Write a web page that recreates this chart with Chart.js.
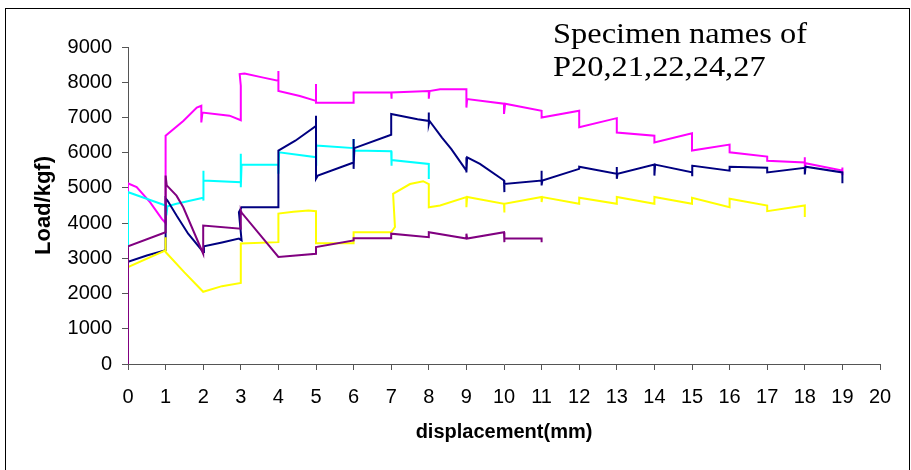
<!DOCTYPE html>
<html>
<head>
<meta charset="utf-8">
<script src="https://cdn.jsdelivr.net/npm/chart.js@4"></script>
<style>
  body { margin: 0; background: #fff; }
  #wrap { position: relative; width: 911px; height: 470px; }
</style>
</head>
<body>
<div id="wrap"><canvas id="chart" width="911" height="470"></canvas></div>
<script>
/* Data (displacement mm / load kgf) */
var magentaX = [0, 0, 0.23, 0.59, 0.9, 1, 1, 1.47, 1.83, 1.95, 1.95, 1.98, 2.7, 3, 3, 2.97, 3.1, 3.6, 4, 4, 4, 4.57, 5, 5, 5, 6, 6, 7, 7, 7.02, 8, 8, 8.02, 8.3, 9, 9, 9.02, 10, 10, 10.03, 11, 11, 12, 12, 13, 13, 14, 14, 15, 15, 16, 16, 17, 17, 18, 18, 18, 18.02, 19, 19, 19];
var magentaY = [0, 5130, 5020, 4590, 4120, 4000, 6480, 6900, 7280, 7330, 6860, 7140, 7050, 6920, 7900, 8230, 8245, 8130, 8040, 8320, 7750, 7610, 7470, 7950, 7420, 7420, 7710, 7710, 7530, 7710, 7750, 7530, 7750, 7800, 7800, 7280, 7520, 7390, 7100, 7390, 7190, 7000, 7190, 6720, 6980, 6570, 6480, 6290, 6550, 6060, 6230, 6010, 5890, 5770, 5720, 5870, 5560, 5700, 5490, 5580, 5360];

var cyanX = [0, 0, 1, 1.02, 1.05, 1.29, 2, 2, 2, 2.02, 3, 3, 3, 3.02, 4, 4, 4.02, 5, 5, 5, 5.02, 6, 6, 6, 6.02, 7, 7, 7.02, 8, 8];
var cyanY = [0, 4880, 4500, 4220, 4480, 4550, 4720, 5490, 4640, 5210, 5160, 5970, 5020, 5660, 5660, 5400, 6010, 5870, 6250, 5630, 6200, 6130, 6390, 5770, 6060, 6040, 5630, 5790, 5680, 5250];

var navyX = [0, 0, 0.5, 1, 1, 1.05, 1.3, 1.6, 2, 2.02, 2.5, 2.95, 3.02, 2.95, 3.02, 4, 4, 4.45, 5, 5, 5, 5.05, 6, 6, 6, 6.02, 7, 7, 7.7, 8, 8, 8, 8.02, 8.35, 8.6, 9, 9, 9, 9.02, 9.36, 10, 10, 10.02, 11, 11, 11, 11.02, 12, 12, 13, 13, 13, 13.02, 14, 14, 14, 14.02, 15, 15, 15, 15.02, 16, 16, 17, 17, 18, 18, 18.02, 19, 19];
var navyY = [0, 2900, 3080, 3230, 4700, 4640, 4200, 3700, 3180, 3340, 3450, 3560, 3510, 4310, 4450, 4450, 6060, 6340, 6760, 7050, 5260, 5350, 5720, 6390, 5540, 6130, 6510, 7100, 6950, 6900, 7140, 6810, 6900, 6430, 6100, 5490, 5870, 5440, 5870, 5680, 5210, 4880, 5110, 5210, 5490, 5070, 5210, 5540, 5600, 5400, 5590, 5260, 5400, 5660, 5680, 5350, 5660, 5440, 5660, 5330, 5630, 5490, 5600, 5570, 5440, 5570, 5380, 5600, 5440, 5130];

var yellowX = [0, 0, 1, 1, 1, 1.5, 2, 2.5, 3, 3, 4, 4, 4.4, 4.8, 5, 5, 6, 6, 7, 7.1, 7.05, 7.5, 7.85, 8, 8, 8.3, 9, 9, 9.02, 10, 10, 10.02, 11, 11, 11.02, 12, 12, 13, 13, 14, 14, 15, 15, 16, 16, 17, 17, 18, 18];
var yellowY = [0, 2750, 3230, 3600, 3180, 2600, 2050, 2210, 2300, 3420, 3460, 4270, 4320, 4360, 4340, 3430, 3430, 3740, 3740, 3890, 4830, 5110, 5190, 5110, 4450, 4500, 4740, 4450, 4740, 4550, 4300, 4550, 4740, 4600, 4740, 4550, 4720, 4550, 4740, 4550, 4740, 4550, 4720, 4450, 4690, 4500, 4340, 4500, 4170];

var purpleX = [0, 0, 1, 1, 1.03, 1.29, 1.47, 2, 2, 3, 3, 3.02, 4, 5, 5, 6, 6, 7, 7, 8, 8, 9, 9, 9.02, 10, 10, 10.02, 11, 11];
var purpleY = [0, 3340, 3740, 5350, 5070, 4780, 4450, 3130, 3930, 3840, 4360, 4300, 3040, 3130, 3320, 3510, 3570, 3570, 3700, 3600, 3740, 3560, 3700, 3560, 3740, 3460, 3560, 3560, 3460];

var xTicks = [0, 20, 1];
var yTicks = [0, 9000, 1000];
var titleLines = ["Specimen names of", "P20,21,22,24,27"];

function pts(xs, ys) {
	var out = [];
	for (var i = 0; i < xs.length; i++) out.push({ x: xs[i], y: ys[i] });
	return out;
}

function series(xs, ys, color) {
	return {
		data: pts(xs, ys),
		borderColor: color,
		backgroundColor: color,
		borderWidth: 2,
		pointRadius: 0,
		tension: 0,
		fill: false,
		showLine: true
	};
}

/* frame + text box, drawn on the canvas */
var extras = {
	id: "extras",
	beforeDraw: function (chart) {
		var ctx = chart.ctx;
		ctx.save();
		ctx.strokeStyle = "#000";
		ctx.lineWidth = 1;
		ctx.strokeRect(5.5, 8.5, 904, 470);
		ctx.restore();
	},
	afterDraw: function (chart) {
		var ctx = chart.ctx;
		ctx.save();
		ctx.fillStyle = "#000";
		ctx.font = "29px 'Liberation Serif'";
		ctx.textBaseline = "alphabetic";
		// the box text is drawn a little wide, like in the picture
		var sx = 254 / ctx.measureText(titleLines[0]).width;
		ctx.translate(553, 0);
		ctx.scale(sx, 1);
		ctx.fillText(titleLines[0], 0, 43);
		ctx.fillText(titleLines[1], 0, 76);
		ctx.restore();
	}
};

var axisColor = "#555";
var plainNum = function (v) { return String(v); };

var ctx = document.getElementById("chart");
var chart = new Chart(ctx, {
	type: "scatter",
	data: {
		datasets: [
			series(purpleX, purpleY, "#800080"),
			series(yellowX, yellowY, "#FFFF00"),
			series(navyX, navyY, "#000080"),
			series(cyanX, cyanY, "#00FFFF"),
			series(magentaX, magentaY, "#FF00FF")
		]
	},
	options: {
		responsive: false,
		devicePixelRatio: 1,
		animation: false,
		layout: { padding: { left: 10, right: 31, top: 47, bottom: 0 } },
		plugins: { legend: { display: false }, tooltip: { enabled: false } },
		scales: {
			x: {
				type: "linear",
				min: xTicks[0],
				max: xTicks[1],
				ticks: { stepSize: xTicks[2], color: "#000", padding: 15, callback: plainNum, font: { family: "'Liberation Sans'", size: 20 } },
				grid: { drawOnChartArea: false, tickLength: 6, color: axisColor },
				border: { color: axisColor },
				title: { display: true, text: "displacement(mm)", color: "#000", padding: { top: 0, bottom: 26 }, font: { family: "'Liberation Sans'", size: 20, weight: "bold" } },
				afterFit: function (s) { s.height = 470 - 364; }
			},
			y: {
				min: yTicks[0],
				max: yTicks[1],
				ticks: { stepSize: yTicks[2], color: "#000", padding: 10, callback: plainNum, font: { family: "'Liberation Sans'", size: 20 } },
				grid: { drawOnChartArea: false, tickLength: 6, color: axisColor },
				border: { color: axisColor },
				title: { display: true, text: "Load/kgf)", color: "#000", padding: { top: 21, bottom: 0 }, font: { family: "'Liberation Sans'", size: 22, weight: "bold" } },
				afterFit: function (s) { s.width = 128 - 10; }
			}
		}
	},
	plugins: [extras]
});
</script>
</body>
</html>
